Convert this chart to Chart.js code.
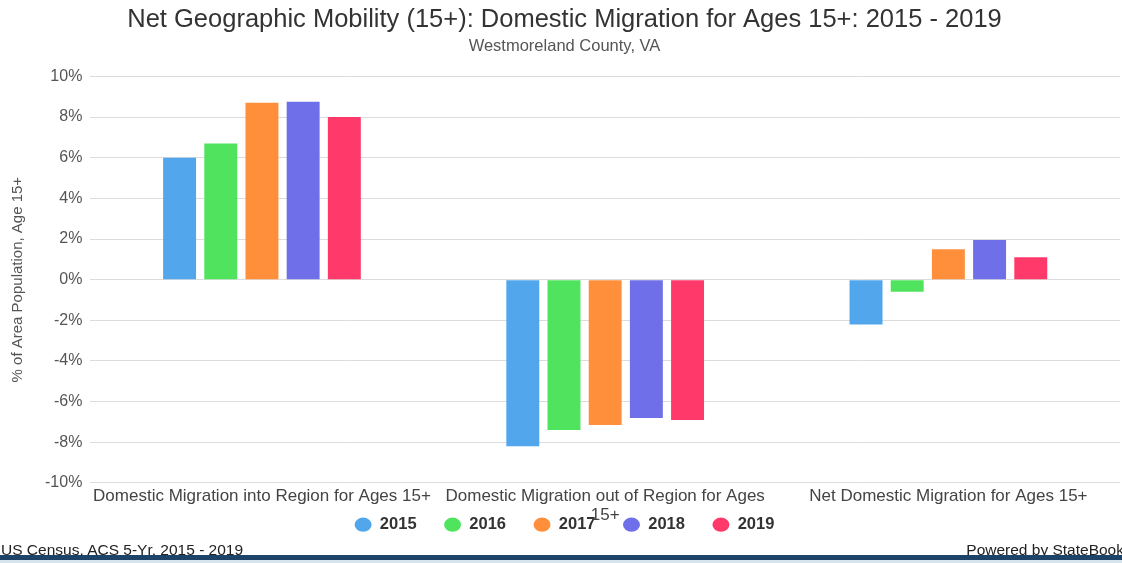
<!DOCTYPE html>
<html>
<head>
<meta charset="utf-8">
<title>Net Geographic Mobility (15+)</title>
<script src="https://cdn.jsdelivr.net/npm/chart.js@4.4.1/dist/chart.umd.min.js"></script>
<style>
  body { margin: 0; background: #fff; font-family: "Liberation Sans", Arial, sans-serif; }
  #wrap { position: relative; width: 1122px; height: 563px; overflow: hidden; background: #fff; }
  #chart-box { position: absolute; left: 0; top: 0; width: 1122px; height: 583px; }
  .foot { position: absolute; top: 541px; font-size: 15.5px; color: #222; }
  #src { left: 1px; }
  #powered { right: -2px; }
  #band { position: absolute; left: 0; right: 0; top: 555px; height: 5px; background: #1d4468; z-index: 2; }
  #band2 { position: absolute; left: 0; right: 0; top: 560px; height: 3px; background: #d6e4ee; z-index: 2; }
</style>
</head>
<body>
<div id="wrap">
  <div id="chart-box"><canvas id="mobility-chart"></canvas></div>
  <div class="foot" id="src">US Census, ACS 5-Yr. 2015 - 2019</div>
  <div class="foot" id="powered">Powered by StateBook</div>
  <div id="band"></div>
  <div id="band2"></div>
</div>
<script>
// --- DATOS ---
const categories = [
    'Domestic Migration into Region for Ages 15+',
    ['Domestic Migration out of Region for Ages', '15+'],
    'Net Domestic Migration for Ages 15+'
];
const years = ['2015', '2016', '2017', '2018', '2019'];
const values2015 = [6.0, -8.2, -2.2];
const values2016 = [6.7, -7.4, -0.6];
const values2017 = [8.7, -7.15, 1.5];
const values2018 = [8.75, -6.8, 1.95];
const values2019 = [8.0, -6.9, 1.1];
const yTicks = [-10, -8, -6, -4, -2, 0, 2, 4, 6, 8, 10];

const seriesValues = [values2015, values2016, values2017, values2018, values2019];
const yearColors = ['#52a7ec', '#4fe35e', '#ff8f3a', '#6f6fe9', '#ff3a6b'];

const datasets = years.map((year, i) => ({
    label: year,
    data: seriesValues[i],
    backgroundColor: yearColors[i],
    borderWidth: 0,
    categoryPercentage: 0.6,
    barPercentage: 0.8
}));

// la leyenda se dibuja encima de la segunda línea de la etiqueta, como en el original
const legendNudge = {
    id: 'legendNudge',
    afterLayout(chart) {
        const lg = chart.legend;
        if (!lg) return;
        const h = lg.bottom - lg.top;
        lg.top = chart.chartArea.bottom + 6;
        lg.bottom = lg.top + h;
    }
};

new Chart(document.getElementById('mobility-chart'), {
    type: 'bar',
    data: { labels: categories, datasets: datasets },
    plugins: [legendNudge],
    options: {
        responsive: true,
        maintainAspectRatio: false,
        animation: false,
        layout: { padding: { left: 9, right: 2, top: 0, bottom: 0 } },
        plugins: {
            title: {
                display: true,
                text: 'Net Geographic Mobility (15+): Domestic Migration for Ages 15+: 2015 - 2019',
                color: '#333',
                font: { family: 'Liberation Sans', size: 25.5, weight: 'normal' },
                padding: { top: 5, bottom: 1 }
            },
            subtitle: {
                display: true,
                text: 'Westmoreland County, VA',
                color: '#555',
                font: { family: 'Liberation Sans', size: 16.5 },
                padding: { top: 0, bottom: 20 }
            },
            legend: {
                position: 'bottom',
                labels: {
                    usePointStyle: true,
                    pointStyle: 'circle',
                    boxHeight: 10,
                    pointStyleWidth: 17,
                    padding: 27.5,
                    color: '#333',
                    font: { family: 'Liberation Sans', size: 16.5, weight: 'bold' }
                }
            },
            tooltip: { enabled: false }
        },
        scales: {
            x: {
                grid: { display: false, drawTicks: false },
                border: { display: false },
                ticks: {
                    color: '#444',
                    autoSkip: false,
                    maxRotation: 0,
                    padding: 4,
                    font: { family: 'Liberation Sans', size: 17, lineHeight: 1.12 }
                }
            },
            y: {
                min: -10,
                max: 10,
                afterBuildTicks: (scale) => { scale.ticks = yTicks.map(v => ({ value: v })); },
                grid: { color: '#dcdcdc', drawTicks: false },
                border: { display: false },
                ticks: {
                    color: '#555',
                    padding: 8,
                    font: { family: 'Liberation Sans', size: 16 },
                    callback: (v) => v + '%'
                },
                title: {
                    display: true,
                    text: '% of Area Population, Age 15+',
                    color: '#555',
                    font: { family: 'Liberation Sans', size: 15 },
                    padding: { top: 0, bottom: 10 }
                }
            }
        }
    }
});
</script>
</body>
</html>
